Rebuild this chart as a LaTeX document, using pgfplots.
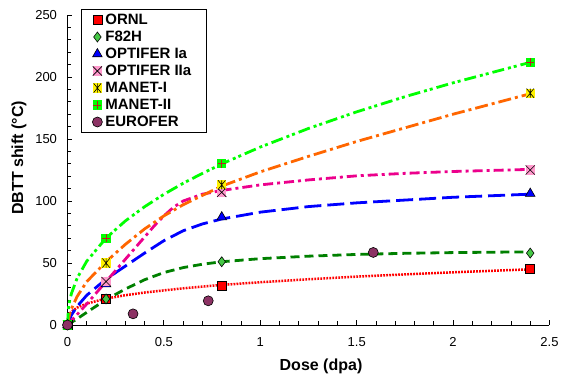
\documentclass[border=0pt]{standalone}
\usepackage{pgfplots}
\pgfplotsset{compat=1.18}
\usepackage{fontspec}
\setmainfont{Liberation Sans}
\definecolor{dkgreen}{RGB}{0,128,0}
\definecolor{ltgreen}{RGB}{70,200,70}
\definecolor{pinkf}{RGB}{255,153,204}
\definecolor{orng}{RGB}{255,102,0}
\definecolor{brgreen}{RGB}{0,255,0}
\definecolor{purp}{RGB}{140,50,100}
\definecolor{plusred}{RGB}{190,30,30}
\pgfdeclareplotmark{sqx}{%
 \pgfpathrectangle{\pgfpoint{-\pgfplotmarksize}{-\pgfplotmarksize}}{\pgfpoint{2\pgfplotmarksize}{2\pgfplotmarksize}}%
 \pgfusepathqfill
 \pgfpathmoveto{\pgfpoint{-\pgfplotmarksize}{-\pgfplotmarksize}}\pgfpathlineto{\pgfpoint{\pgfplotmarksize}{\pgfplotmarksize}}%
 \pgfpathmoveto{\pgfpoint{-\pgfplotmarksize}{\pgfplotmarksize}}\pgfpathlineto{\pgfpoint{\pgfplotmarksize}{-\pgfplotmarksize}}%
 \pgfusepathqstroke}
\pgfdeclareplotmark{sqast}{%
 \pgfpathrectangle{\pgfpoint{-\pgfplotmarksize}{-\pgfplotmarksize}}{\pgfpoint{2\pgfplotmarksize}{2\pgfplotmarksize}}%
 \pgfusepathqfill
 \pgfpathmoveto{\pgfpoint{-0.8\pgfplotmarksize}{-\pgfplotmarksize}}\pgfpathlineto{\pgfpoint{0.8\pgfplotmarksize}{\pgfplotmarksize}}%
 \pgfpathmoveto{\pgfpoint{-0.8\pgfplotmarksize}{\pgfplotmarksize}}\pgfpathlineto{\pgfpoint{0.8\pgfplotmarksize}{-\pgfplotmarksize}}%
 \pgfpathmoveto{\pgfpoint{0pt}{-\pgfplotmarksize}}\pgfpathlineto{\pgfpoint{0pt}{\pgfplotmarksize}}%
 \pgfusepathqstroke}
\pgfdeclareplotmark{sqplus}{%
 \pgfpathrectangle{\pgfpoint{-\pgfplotmarksize}{-\pgfplotmarksize}}{\pgfpoint{2\pgfplotmarksize}{2\pgfplotmarksize}}%
 \pgfusepathqfill
 \pgfpathmoveto{\pgfpoint{-0.85\pgfplotmarksize}{0pt}}\pgfpathlineto{\pgfpoint{0.85\pgfplotmarksize}{0pt}}%
 \pgfpathmoveto{\pgfpoint{0pt}{-0.85\pgfplotmarksize}}\pgfpathlineto{\pgfpoint{0pt}{0.85\pgfplotmarksize}}%
 \pgfusepathqstroke}
\pgfplotsset{lm/.style={draw=none, line width=0.6pt,
    legend image code/.code={\path (0pt,-3pt) rectangle (20pt,3pt);\draw[##1] plot coordinates {(14pt,0pt)};}}}
\begin{document}
\begin{tikzpicture}
\useasboundingbox (-67.5pt,-55pt) rectangle (498.5pt,325pt);
\begin{axis}[
  at={(0pt,0pt)}, anchor=south west,
  width=482pt, height=310pt, scale only axis,
  xmin=0, xmax=2.5, ymin=0, ymax=250,
  xtick={0,0.5,1,1.5,2,2.5}, ytick={0,50,100,150,200,250},
  minor x tick num=4, minor y tick num=4,
  axis x line*=bottom, axis y line*=left,
  axis line style={-, line width=0.8pt},
  tick align=inside,
  major tick length=5pt, minor tick length=4pt,
  every tick/.style={black, line width=0.8pt},
  clip=false,
  /pgf/number format/assume math mode=true,
  tick label style={font=\fontsize{13}{13}\selectfont},
  xticklabel style={yshift=-9pt},
  yticklabel style={xshift=-7pt},
  label style={font=\fontsize{16}{16}\selectfont\bfseries},
  xlabel={Dose (dpa)},
  xlabel style={at={(axis description cs:0.526,-0.132)}, anchor=center},
  ylabel={DBTT shift (°C)},
  ylabel style={at={(axis description cs:-0.1006,0.539)}, anchor=center},
  legend style={at={(axis description cs:0.028,1.019)}, anchor=north west,
    draw=black, line width=0.8pt, font=\fontsize{15}{17}\selectfont\bfseries,
    row sep=0pt, inner sep=2pt,
    nodes={text height=11pt, text depth=2pt, inner sep=2pt}},
  legend cell align=left,
]
% fitted curves
\addplot[forget plot, red, line width=2.5pt, dash pattern=on 1.8pt off 1.2pt] coordinates {
 (0,0)(0.005,7.0)(0.01,8.7)(0.02,10.7)(0.05,14.0)(0.1,17.3)(0.2,21.3)(0.3,24.0)(0.4,26.2)(0.6,29.6)(0.8,32.3)(1.0,34.5)(1.25,36.9)(1.5,39.0)(1.75,40.8)(2.0,42.5)(2.4,44.9)};
\addplot[forget plot, dkgreen, line width=2.8pt, dash pattern=on 9pt off 5pt] coordinates {
 (0,0)(0.05,5)(0.1,10.2)(0.2,20.5)(0.3,29)(0.4,36.5)(0.5,42.3)(0.6,46.3)(0.7,49)(0.8,51)(1.0,53.5)(1.25,55.5)(1.5,56.9)(1.75,57.8)(2.0,58.4)(2.4,59)};
\addplot[forget plot, blue, line width=2.8pt, dash pattern=on 17pt off 6pt] coordinates {
 (0,0)(0.02,8)(0.05,15)(0.1,24)(0.2,37)(0.3,47.5)(0.4,58)(0.5,68)(0.6,76)(0.7,81.5)(0.8,85.5)(1.0,91)(1.25,95.5)(1.5,98.5)(2.0,103)(2.4,105.5)};
\addplot[forget plot, magenta, line width=2.8pt, dash pattern=on 10pt off 4pt on 3pt off 4pt] coordinates {
 (0,0)(0.02,3.5)(0.05,8.5)(0.1,17)(0.2,35)(0.3,53)(0.4,71)(0.45,80)(0.5,88)(0.55,95)(0.6,100)(0.7,105.5)(0.8,108.5)(1.0,113)(1.25,117)(1.5,120.3)(1.75,122.3)(2.0,123.8)(2.4,125.5)};
\addplot[forget plot, orng, line width=2.8pt, dash pattern=on 13pt off 4pt on 3pt off 4pt] coordinates {
 (0,0)(0.01,8)(0.02,13)(0.05,23)(0.1,35)(0.2,51)(0.3,65)(0.4,77.5)(0.5,88)(0.6,97)(0.8,112)(1.0,123.5)(1.25,136)(1.5,148)(1.75,159)(2.0,170)(2.4,186.5)};
\addplot[forget plot, brgreen, line width=2.8pt, dash pattern=on 12pt off 4pt on 3pt off 3pt on 3pt off 4pt] coordinates {
 (0,0)(0.005,13.6)(0.01,18.5)(0.02,25.2)(0.05,37.8)(0.1,51.5)(0.2,70.1)(0.3,83.9)(0.4,95.4)(0.5,105.4)(0.6,114.3)(0.7,122.3)(0.8,129.9)(1.0,143.5)(1.25,158.5)(1.5,171.9)(1.75,184.1)(2.0,195.3)(2.4,211.8)};
% data points
\addplot[lm, mark=square*, mark size=4.5pt, mark options={fill=red, draw=black}] coordinates {(0,0)(0.2,21)(0.8,32)(2.4,45)};
\addlegendentry{ORNL}
\addplot[lm, mark=diamond*, mark size=5pt, mark options={fill=ltgreen, draw=black}] coordinates {(0,0)(0.2,21)(0.8,51)(2.4,58)};
\addlegendentry{F82H}
\addplot[lm, mark=triangle*, mark size=5.5pt, mark options={fill=blue, draw=black}] coordinates {(0,0)(0.2,33)(0.8,87)(2.4,106)};
\addlegendentry{OPTIFER Ia}
\addplot[lm, mark=sqx, mark size=4.6pt, mark options={fill=pinkf, draw=black}] coordinates {(0,0)(0.2,35)(0.8,107)(2.4,125)};
\addlegendentry{OPTIFER IIa\kern11pt}
\addplot[lm, mark=sqast, mark size=4.6pt, mark options={fill=yellow, draw=black}] coordinates {(0,0)(0.2,50)(0.8,113)(2.4,187)};
\addlegendentry{MANET-I}
\addplot[lm, mark=sqplus, mark size=4.6pt, mark options={fill=brgreen, draw=plusred}] coordinates {(0,0)(0.2,70)(0.8,130)(2.4,212)};
\addlegendentry{MANET-II}
\addplot[lm, mark=*, mark size=5pt, mark options={fill=purp, draw=black}] coordinates {(0,0)(0.34,9)(0.73,19.5)(1.586,58.5)};
\addlegendentry{EUROFER}
\end{axis}
\end{tikzpicture}
\end{document}
